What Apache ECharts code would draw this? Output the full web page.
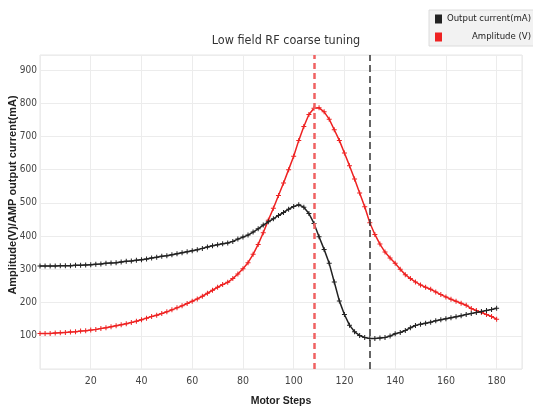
<!DOCTYPE html>
<html>
<head>
<meta charset="utf-8">
<script src="https://cdn.jsdelivr.net/npm/echarts@6/dist/echarts.min.js"></script>
<style>
html,body{margin:0;padding:0;background:#fff;}
#c{width:533px;height:406px;}
</style>
</head>
<body>
<div id="c"></div>
<script>
// Motor steps (x values)
const steps = [];
for (let s = 0; s <= 180; s += 2) steps.push(s);

// Output current (mA)
const outputCurrent = [
  310,310,310,310,311,311,311,312,312,313,
  314,315,316,318,319,320,322,324,325,327,
  329,331,334,336,339,341,344,347,350,353,
  356,359,363,367,371,374,377,379,384,391,
  397,403,412,422,433,443,452,462,471,481,
  489,494,487,468,438,398,360,318,262,205,
  164,132,112,101,95,92,92,93,95,99,
  106,110,116,124,131,135,138,141,145,148,
  151,154,157,160,164,167,170,173,176,179,
  183
];

// Amplitude (V)
const amplitude = [
  107,107,107,108,109,110,111,112,114,115,
  117,119,122,124,127,130,133,136,140,144,
  148,153,158,162,167,172,178,184,190,197,
  204,211,219,228,237,246,254,261,272,286,
  302,320,345,375,410,448,484,522,560,600,
  640,688,730,766,785,786,774,752,720,688,
  650,612,572,530,488,440,405,376,352,334,
  318,300,284,272,262,253,246,240,232,224,
  217,210,204,198,192,182,176,170,164,158,
  150
];

const seriesNames = ['Output current(mA)', 'Amplitude (V)'];
const markerSteps = [108, 130];
const yTicks = [100, 200, 300, 400, 500, 600, 700, 800, 900];
const xTicks = [20, 40, 60, 80, 100, 120, 140, 160, 180];

const FONT = '"Liberation Sans Narrow", "DejaVu Sans Condensed", "Liberation Sans", sans-serif';
const plus = 'path://M4,0h2v4h4v2h-4v4h-2v-4h-4v-2h4z';

const pairs = (ys) => steps.map((s, i) => [s, ys[i]]);

const chart = echarts.init(document.getElementById('c'), null, {renderer: 'canvas'});
chart.setOption({
  animation: false,
  backgroundColor: '#fff',
  title: {
    text: 'Low field RF coarse tuning',
    left: 281, top: 29, textAlign: 'center',
    textStyle: {fontFamily: FONT, fontSize: 12.5, fontWeight: 'normal', color: '#333'}
  },
  legend: {
    orient: 'vertical', right: -2, top: 10,
    backgroundColor: '#f2f2f2', borderColor: '#dcdcdc', borderWidth: 1,
    padding: [4, 4, 4, 6], itemGap: 8,
    itemWidth: 7, itemHeight: 9, icon: 'rect', itemStyle: {borderWidth: 0},
    data: [
      {name: seriesNames[0], itemStyle: {color: '#222'}},
      {name: seriesNames[1], itemStyle: {color: '#ee2222'}}
    ],
    formatter: n => '{a|' + n + '}',
    textStyle: {
      fontFamily: FONT, fontSize: 10, color: '#222',
      rich: {a: {width: 84, align: 'right', fontFamily: FONT, fontSize: 9.5, color: '#222'}}
    }
  },
  grid: {
    left: 40, right: 11, top: 55, bottom: 37,
    containLabel: false, outerBoundsMode: 'none',
    show: true, borderColor: '#e6e6e6', borderWidth: 1
  },
  xAxis: {
    type: 'value', min: 0, max: 190, interval: 20,
    name: 'Motor Steps', nameLocation: 'middle', nameGap: 27, nameMoveOverlap: false,
    nameTextStyle: {fontFamily: '"Liberation Sans", sans-serif', fontSize: 10.5, fontWeight: 'bold', color: '#222'},
    axisLine: {show: false}, axisTick: {show: false},
    axisLabel: {
      fontFamily: FONT, fontSize: 10.5, color: '#444', margin: 7,
      showMinLabel: false, showMaxLabel: false,
      formatter: v => xTicks.includes(v) ? String(v) : ''
    },
    splitLine: {show: true, lineStyle: {color: '#ececec', width: 1}}
  },
  yAxis: {
    type: 'value', min: 0, max: 945, interval: 100,
    name: 'Amplitude(V)/AMP output current(mA)', nameLocation: 'middle', nameGap: 22, nameMoveOverlap: false,
    nameTextStyle: {fontFamily: '"Liberation Sans", sans-serif', fontSize: 11, fontWeight: 'bold', color: '#222', padding: [0, 0, 0, 34]},
    axisLine: {show: false}, axisTick: {show: false},
    axisLabel: {
      fontFamily: FONT, fontSize: 10, color: '#444', margin: 3,
      showMinLabel: false, showMaxLabel: false,
      formatter: v => yTicks.includes(v) ? String(v) : ''
    },
    splitLine: {show: true, lineStyle: {color: '#ececec', width: 1}}
  },
  series: [
    {
      name: seriesNames[0], type: 'line', data: pairs(outputCurrent),
      symbol: plus, symbolSize: 5, showSymbol: true,
      lineStyle: {color: '#222', width: 1.5},
      itemStyle: {color: '#222'},
      z: 3,
      markLine: {
        silent: true, symbol: 'none', label: {show: false},
        lineStyle: {color: '#333', type: [7, 4], width: 1.5},
        data: [{xAxis: markerSteps[1]}]
      }
    },
    {
      name: seriesNames[1], type: 'line', data: pairs(amplitude),
      symbol: plus, symbolSize: 5, showSymbol: true,
      lineStyle: {color: '#ee2222', width: 1.5},
      itemStyle: {color: '#ee2222'},
      z: 2,
      markLine: {
        silent: true, symbol: 'none', label: {show: false},
        lineStyle: {color: '#f06262', type: [6, 4], width: 2.5},
        data: [{xAxis: markerSteps[0]}]
      }
    }
  ]
});
</script>
</body>
</html>
